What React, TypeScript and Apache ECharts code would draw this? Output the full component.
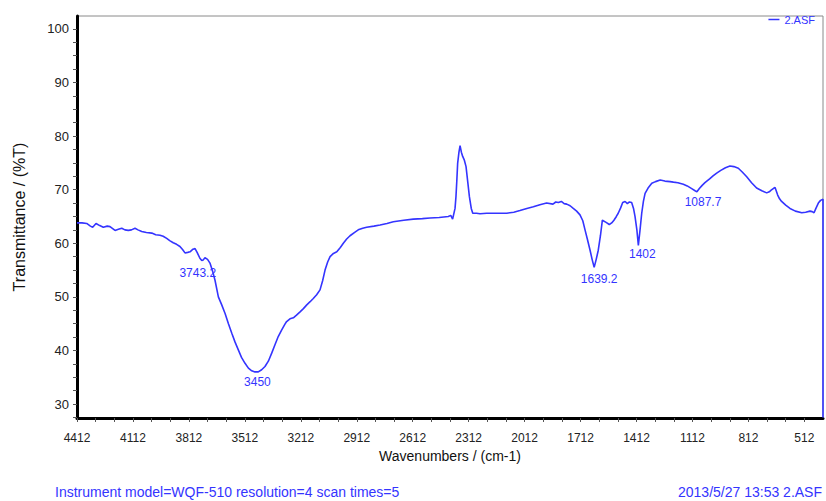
import React, { useEffect, useRef } from "react";
import * as echarts from "echarts";

// Wavenumber (cm-1), descending, and transmittance (%T)
const wavenumbers = [
  4412, 4385, 4360, 4340, 4328, 4310, 4290, 4271, 4250, 4235, 4208, 4190, 4172, 4155, 4137, 4120, 4101,
  4085, 4065, 4040, 4011, 3990, 3967, 3950, 3931, 3915, 3896, 3878, 3860, 3845, 3833, 3818, 3806, 3790,
  3779, 3768, 3753, 3743, 3735, 3726, 3712, 3699, 3685, 3672, 3654, 3636, 3618, 3600, 3582, 3565, 3547,
  3530, 3511, 3493, 3475, 3458, 3450, 3440, 3422, 3404, 3386, 3368, 3350, 3333, 3315, 3297, 3288, 3270,
  3252, 3235, 3216, 3198, 3180, 3162, 3145, 3127, 3109, 3095, 3082, 3068, 3055, 3037, 3019, 3000, 2984,
  2966, 2948, 2925, 2904, 2880, 2859, 2820, 2787, 2750, 2716, 2660, 2609, 2560, 2519, 2470, 2421, 2408,
  2398, 2385, 2380, 2375, 2371, 2364, 2358, 2351, 2344, 2335, 2326, 2317, 2308, 2298, 2290, 2270, 2251,
  2215, 2160, 2108, 2070, 2037, 2000, 1965, 1930, 1894, 1860, 1845, 1831, 1815, 1800, 1786, 1768, 1751,
  1733, 1715, 1700, 1688, 1675, 1661, 1650, 1639, 1628, 1617, 1605, 1595, 1575, 1558, 1545, 1533, 1520,
  1510, 1497, 1486, 1473, 1461, 1450, 1438, 1428, 1420, 1410, 1402, 1393, 1384, 1375, 1366, 1350, 1330,
  1310, 1285, 1260, 1232, 1214, 1190, 1161, 1140, 1116, 1098, 1088, 1075, 1060, 1045, 1020, 1000, 982,
  960, 935, 911, 890, 866, 845, 821, 795, 768, 740, 714, 700, 690, 675, 669, 655, 645, 634, 612, 589,
  560, 526, 505, 482, 470, 460, 450, 437, 425, 412, 412,
];
const transmittance = [
  63.8, 63.8, 63.7, 63.2, 63.0, 63.7, 63.3, 63.0, 63.2, 63.1, 62.4, 62.6, 62.8, 62.5, 62.4, 62.5, 62.8,
  62.5, 62.2, 62.0, 61.9, 61.6, 61.5, 61.3, 60.9, 60.5, 60.1, 59.8, 59.4, 58.8, 58.2, 58.3, 58.4, 58.9,
  59.0, 58.3, 57.2, 56.8, 56.9, 57.3, 57.0, 56.3, 54.8, 53.1, 50.0, 48.5, 46.9, 45.0, 43.2, 41.6, 40.1,
  38.7, 37.6, 36.7, 36.2, 36.0, 36.0, 36.0, 36.4, 37.0, 38.0, 39.5, 41.1, 42.6, 43.8, 44.9, 45.4, 45.9,
  46.1, 46.6, 47.2, 47.8, 48.5, 49.1, 49.7, 50.4, 51.3, 53.0, 55.0, 56.5, 57.5, 58.1, 58.4, 59.2, 60.0,
  60.8, 61.4, 62.0, 62.5, 62.8, 63.0, 63.2, 63.4, 63.7, 64.0, 64.3, 64.5, 64.6, 64.7, 64.8, 65.0, 65.2,
  64.5, 66.5, 68.7, 72.0, 74.9, 77.0, 78.2, 77.0, 76.2, 75.5, 74.3, 71.5, 68.7, 66.5, 65.6, 65.6, 65.5,
  65.6, 65.6, 65.6, 65.8, 66.1, 66.5, 66.8, 67.2, 67.5, 67.3, 67.7, 67.6, 67.8, 67.4, 67.3, 67.0, 66.5,
  66.0, 65.3, 64.2, 62.5, 60.7, 58.7, 57.0, 55.5, 57.0, 58.7, 61.5, 64.3, 63.9, 63.5, 63.8, 64.3, 65.0,
  65.6, 66.6, 67.6, 67.8, 67.4, 67.7, 67.6, 66.5, 65.0, 62.5, 59.6, 62.5, 65.6, 67.8, 69.3, 70.3, 71.2,
  71.5, 71.8, 71.6, 71.5, 71.4, 71.3, 71.0, 70.7, 70.2, 69.8, 69.6, 70.2, 70.8, 71.3, 72.0, 72.6, 73.1,
  73.6, 74.1, 74.4, 74.3, 74.0, 73.3, 72.4, 71.3, 70.3, 69.8, 69.4, 69.6, 69.9, 70.3, 70.4, 69.0, 68.3,
  67.8, 67.1, 66.5, 66.0, 65.7, 65.8, 66.0, 65.9, 65.7, 66.5, 67.5, 68.0, 68.2, 27.5,
];

// Annotated peaks
const peakWavenumbers = [3743.2, 3450, 1639.2, 1402, 1087.7];
const peakTransmittance = [56.8, 36.0, 55.5, 59.6, 69.6];

// Axis tick labels
const xTickLabels = [4412, 4112, 3812, 3512, 3212, 2912, 2612, 2312, 2012, 1712, 1412, 1112, 812, 512];
const yTickLabels = [30, 40, 50, 60, 70, 80, 90, 100];

const seriesName = "2.ASF";
const footerLeft = "Instrument model=WQF-510 resolution=4 scan times=5";
const footerRight = "2013/5/27 13:53 2.ASF";

// Styling (not data): label centre offset from each peak point, in px
const PEAK_LABEL_OFFSETS: [number, number][] = [
  [-4, 13],
  [1, 10],
  [5, 12],
  [4, 9],
  [6, 10],
];
const BLUE = "#3434ff";
const FONT = "'Liberation Sans', Arial, sans-serif";
const PEAK_SYMBOL = 2;

export default function App() {
  const ref = useRef<HTMLDivElement>(null);

  useEffect(() => {
    if (!ref.current) return;
    const chart = echarts.init(ref.current, null, { renderer: "svg" });

    const xMinor: number[] = [];
    xTickLabels.forEach((v) => {
      xMinor.push(v, v - 100, v - 200);
    });
    const xTicks = xMinor.filter((v) => v > 412);
    const yTicks: number[] = [27.5];
    yTickLabels.forEach((v, i) => {
      yTicks.push(v);
      if (i < yTickLabels.length - 1) yTicks.push(v + 2.5, v + 5, v + 7.5);
    });

    const lineData = wavenumbers.map((w, i) => [w, transmittance[i]]);
    const peakData = peakWavenumbers.map((w, i) => ({
      value: [w, peakTransmittance[i]],
      label: {
        position: [
          PEAK_SYMBOL / 2 + PEAK_LABEL_OFFSETS[i][0],
          PEAK_SYMBOL / 2 + PEAK_LABEL_OFFSETS[i][1],
        ],
      },
    }));

    chart.setOption({
      animation: false,
      backgroundColor: "#ffffff",
      textStyle: { fontFamily: FONT },
      grid: {
        left: 77,
        right: 3,
        top: 16,
        bottom: 83,
        show: true,
        borderColor: "#8a8a8a",
        borderWidth: 1,
        containLabel: false,
        outerBoundsMode: "none",
      },
      legend: {
        data: [{ name: seriesName, icon: "rect" }],
        right: 11,
        top: 14,
        padding: 0,
        itemWidth: 11,
        itemHeight: 1.5,
        itemGap: 4,
        textStyle: { color: BLUE, fontSize: 11, fontFamily: FONT },
      },
      xAxis: {
        type: "value",
        min: 412,
        max: 4412,
        inverse: true,
        name: "Wavenumbers / (cm-1)",
        nameLocation: "middle",
        nameGap: 31,
        nameTextStyle: { color: "#111", fontSize: 14, fontFamily: FONT },
        axisLine: { show: true, onZero: false, lineStyle: { color: "#000", width: 3 } },
        axisTick: { show: true, length: 4, customValues: xTicks, lineStyle: { color: "#555" } },
        axisLabel: {
          customValues: xTickLabels,
          formatter: (v: number) => String(v),
          margin: 14,
          color: "#222",
          fontSize: 12,
          fontFamily: FONT,
        },
        splitLine: { show: false },
      },
      yAxis: {
        type: "value",
        min: 27.4,
        max: 102.4,
        name: "Transmittance / (%T)",
        nameLocation: "middle",
        nameGap: 50,
        nameTextStyle: { color: "#111", fontSize: 16, fontFamily: FONT },
        axisLine: { show: true, onZero: false, lineStyle: { color: "#000", width: 3 } },
        axisTick: { show: true, length: 4, customValues: yTicks, lineStyle: { color: "#555" } },
        axisLabel: {
          customValues: yTickLabels,
          formatter: (v: number) => String(v),
          margin: 8,
          color: "#222",
          fontSize: 13,
          fontFamily: FONT,
        },
        splitLine: { show: false },
      },
      series: [
        {
          name: seriesName,
          type: "line",
          data: lineData,
          symbol: "none",
          showSymbol: false,
          lineStyle: { color: BLUE, width: 1.6 },
          itemStyle: { color: BLUE },
          silent: true,
        },
        {
          name: "peaks",
          type: "scatter",
          data: peakData,
          symbol: "circle",
          symbolSize: PEAK_SYMBOL,
          itemStyle: { color: "rgba(0,0,0,0)" },
          silent: true,
          z: 5,
          label: {
            show: true,
            align: "center",
            verticalAlign: "middle",
            formatter: (p: any) => String(p.value[0]),
            color: BLUE,
            opacity: 1,
            fontSize: 12,
            fontFamily: FONT,
          },
          labelLayout: { hideOverlap: false },
        },
      ],
      graphic: [
        {
          type: "text",
          left: 55,
          top: 485,
          style: { text: footerLeft, fill: BLUE, font: `14px ${FONT}` },
        },
        {
          type: "text",
          right: 4,
          top: 485,
          style: { text: footerRight, fill: BLUE, font: `14px ${FONT}` },
        },
      ],
    });

    return () => chart.dispose();
  }, []);

  return (
    <div
      ref={ref}
      style={{ position: "fixed", left: 0, top: 0, width: 826, height: 501, background: "#fff" }}
    />
  );
}
